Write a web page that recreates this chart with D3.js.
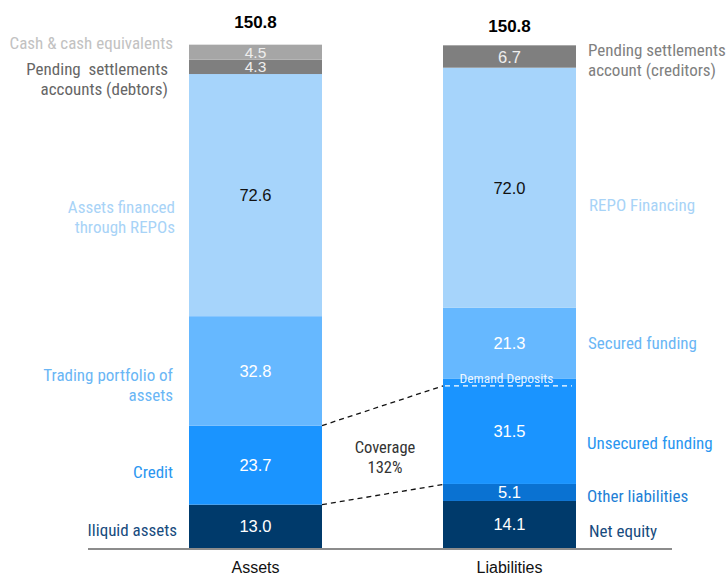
<!DOCTYPE html>
<html>
<head>
<meta charset="utf-8">
<script src="https://cdn.jsdelivr.net/npm/d3@7"></script>
<style>
  html, body { margin: 0; padding: 0; background: #fff; }
  svg { display: block; }
  .narrow { font-family: "Liberation Sans Narrow", "Arial Narrow", "Roboto Condensed", sans-serif; }
  .reg { font-family: "Liberation Sans", Arial, sans-serif; }
</style>
</head>
<body>
<svg id="chart" width="726" height="576"></svg>
<script>
// ---- data (bottom of each stack first) ----
const columns = ["Assets", "Liabilities"];

const assetNames  = ["Iliquid assets", "Credit", "Trading portfolio of assets",
                     "Assets financed through REPOs", "Pending settlements accounts (debtors)",
                     "Cash & cash equivalents"];
const assetValues = [13.0, 23.7, 32.8, 72.6, 4.3, 4.5];

const liabilityNames  = ["Net equity", "Other liabilities", "Unsecured funding",
                         "Secured funding", "REPO Financing", "Pending settlements account (creditors)"];
const liabilityValues = [14.1, 5.1, 31.5, 21.3, 72.0, 6.7];

const totals = [150.8, 150.8];

// demand deposits: upper slice of unsecured funding
const demandDeposits = 2.1;
const coverageText = ["Coverage", "132%"];

// ---- styles ----
const assetFill  = ["#003a6b", "#1a94ff", "#66b8ff", "#a6d4fb", "#7f7f7f", "#a6a6a6"];
const assetInk   = ["#fff", "#fff", "#fff", "#111", "#eee", "#eee"];
const liabFill   = ["#003a6b", "#0a72d2", "#1a94ff", "#66b8ff", "#a6d4fb", "#7f7f7f"];
const liabInk    = ["#fff", "#fff", "#fff", "#fff", "#111", "#eee"];

// side labels: lines, text colour, anchor x, first-line centre y
const leftLabels = [
  { lines: ["Iliquid assets"], color: "#174b7e", x: 177, y: 530 },
  { lines: ["Credit"], color: "#2a96f0", x: 173, y: 472 },
  { lines: ["Trading portfolio of", "assets"], color: "#6ab6f5", x: 173, y: 375 },
  { lines: ["Assets financed", "through REPOs"], color: "#a8d3f7", x: 175, y: 207 },
  { lines: ["Pending  settlements", "accounts (debtors)"], color: "#666", x: 168, y: 69 },
  { lines: ["Cash & cash equivalents"], color: "#c2c2c2", x: 173, y: 43 }
];
const rightLabels = [
  { lines: ["Net equity"], color: "#174b7e", x: 589, y: 531 },
  { lines: ["Other liabilities"], color: "#1f7fd6", x: 587, y: 496 },
  { lines: ["Unsecured funding"], color: "#2a96f0", x: 587, y: 443 },
  { lines: ["Secured funding"], color: "#6ab6f5", x: 588, y: 343 },
  { lines: ["REPO Financing"], color: "#a8d3f7", x: 589, y: 205 },
  { lines: ["Pending settlements", "account (creditors)"], color: "#808080", x: 588, y: 50 }
];

// ---- scales ----
const svg = d3.select("#chart");
const y = d3.scaleLinear().domain([0, 150.8]).range([548, 45]);
const xc = d3.scalePoint().domain(columns).range([255.5, 509.5]);
const barW = 133;

function stackOf(values) {
  const tops = d3.cumsum(values);
  return values.map((v, i) => ({ v, y0: tops[i] - v, y1: tops[i], i }));
}
const stacks = [stackOf(assetValues), stackOf(liabilityValues)];
const fills = [assetFill, liabFill];
const inks = [assetInk, liabInk];

// baseline
svg.append("line")
  .attr("x1", 88).attr("x2", 672)
  .attr("y1", 549).attr("y2", 549)
  .attr("stroke", "#8c8c8c").attr("stroke-width", 2);

// bars
columns.forEach((c, ci) => {
  const g = svg.append("g");
  const x0 = xc(c) - barW / 2;
  g.selectAll("rect").data(stacks[ci]).join("rect")
    .attr("x", x0).attr("width", barW)
    .attr("y", d => y(d.y1)).attr("height", d => y(d.y0) - y(d.y1))
    .attr("fill", d => fills[ci][d.i]);
  g.selectAll("text").data(stacks[ci]).join("text")
    .attr("class", "reg")
    .attr("x", xc(c))
    .attr("y", d => (y(d.y0) + y(d.y1)) / 2 + (d.v < 5 ? 5.5 : 6))
    .attr("text-anchor", "middle")
    .attr("font-size", d => d.v < 5 ? 15.5 : 16.5)
    .attr("fill", d => inks[ci][d.i])
    .text(d => d.v.toFixed(1));
  // total above bar
  svg.append("text")
    .attr("class", "reg")
    .attr("x", xc(c)).attr("y", y(totals[ci]) - 17 + (ci === 1 ? 4 : 0))
    .attr("text-anchor", "middle")
    .attr("font-size", 17).attr("font-weight", "bold").attr("fill", "#000")
    .text(totals[ci].toFixed(1));
  // column label
  svg.append("text")
    .attr("class", "reg")
    .attr("x", xc(c)).attr("y", 573)
    .attr("text-anchor", "middle")
    .attr("font-size", 16).attr("fill", "#111")
    .text(c);
});

// demand deposits divider inside unsecured funding
const liabX0 = xc("Liabilities") - barW / 2;
const assetX1 = xc("Assets") + barW / 2;
const unsecured = stacks[1][2];
const ddY = y(unsecured.y1 - demandDeposits);
svg.append("line")
  .attr("x1", liabX0 + 2).attr("x2", liabX0 + barW - 4)
  .attr("y1", ddY).attr("y2", ddY)
  .attr("stroke", "#fff").attr("stroke-width", 1.3)
  .attr("stroke-dasharray", "5,4");
svg.append("text")
  .attr("class", "narrow")
  .attr("x", xc("Liabilities") - 3).attr("y", ddY - 3)
  .attr("text-anchor", "middle")
  .attr("font-size", 13.5).attr("fill", "#fff").attr("fill-opacity", 0.9)
  .text("Demand Deposits");

// coverage connectors: credit vs unsecured funding
const credit = stacks[0][1];
const other = stacks[1][1];
const connectors = [
  [assetX1, y(credit.y1), liabX0, ddY],
  [assetX1, y(credit.y0), liabX0 + 3, y(other.y1)]
];
svg.selectAll("line.conn").data(connectors).join("line")
  .attr("class", "conn")
  .attr("x1", d => d[0]).attr("y1", d => d[1])
  .attr("x2", d => d[2]).attr("y2", d => d[3])
  .attr("stroke", "#111").attr("stroke-width", 1.3)
  .attr("stroke-dasharray", "5,4");

svg.append("text")
  .attr("class", "narrow")
  .attr("text-anchor", "middle")
  .attr("font-size", 16.5).attr("fill", "#333")
  .selectAll("tspan").data(coverageText).join("tspan")
  .attr("x", 385).attr("y", (d, i) => 453 + i * 20)
  .text(d => d);

// side labels
function drawLabels(list, anchor) {
  list.forEach(l => {
    const t = svg.append("text")
      .attr("class", "narrow")
      .attr("text-anchor", anchor)
      .attr("font-size", 17)
      .attr("fill", l.color);
    t.selectAll("tspan").data(l.lines).join("tspan")
      .attr("x", l.x).attr("y", (d, i) => l.y + 6 + i * 20)
      .attr("xml:space", "preserve")
      .style("white-space", "pre")
      .text(d => d);
  });
}
drawLabels(leftLabels, "end");
drawLabels(rightLabels, "start");
</script>
</body>
</html>
